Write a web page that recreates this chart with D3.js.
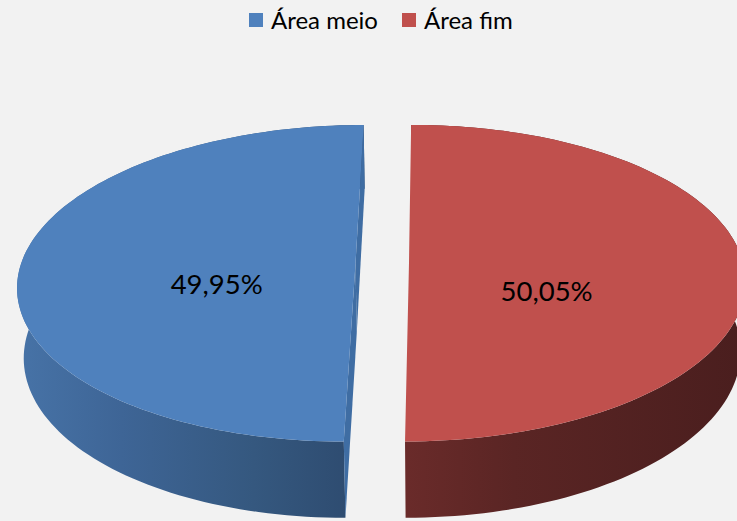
<!DOCTYPE html>
<html>
<head>
<meta charset="utf-8">
<script src="https://cdn.jsdelivr.net/npm/d3@7"></script>
<style>
  body { margin: 0; background: #f2f2f2; }
  svg { display: block; }
</style>
</head>
<body>
<div id="chart"></div>
<script>
// data
const categories = ["Área meio", "Área fim"]
const values = [49.95, 50.05]
const labels = ["49,95%", "50,05%"]

const width = 737
const height = 521

const topColors = ["#4f81bd", "#c0504d"]
const wallColors = ["#3f6da3", "#8e3a38"]
// side shading, darker towards the right
const sideStops = [
  [[0, "#4773a7"], [0.3, "#3e6596"], [0.68, "#35587f"], [1, "#2d4a6e"]],
  [[0, "#6a2b2a"], [0.32, "#5a2524"], [1, "#4a1e1e"]]
]

// 3d view: camera above and a little to the right of the pie
const view = {
  f: 2340, D: 7.0, tilt: 27.77 * Math.PI / 180,
  camX: 0.162, cx: 436.4, cy: 263.2,
  thick: 0.239, explode: 0.08
}
const cs = Math.cos(view.tilt)
const sn = Math.sin(view.tilt)
const cam = [view.camX, view.D * sn, -view.D * cs]

function proj(X, Y, Z) {
  const depth = view.D + Z * cs - Y * sn
  const v = Y * cs + Z * sn
  return [view.cx + view.f * (X - view.camX) / depth, view.cy - view.f * v / depth]
}

const svg = d3.select("#chart")
  .append("svg")
  .attr("width", width)
  .attr("height", height)
  .style("background", "#f2f2f2")

const defs = svg.append("defs")

const pie = d3.pie().sort(null).startAngle(Math.PI).endAngle(3 * Math.PI)
const arcs = pie(values)

const line = d3.line()

const slices = arcs.map((a, i) => {
  const mid = (a.startAngle + a.endAngle) / 2
  const ox = view.explode * Math.sin(mid)
  const oz = view.explode * Math.cos(mid)
  const n = 120
  const angles = d3.range(n + 1).map(k => a.startAngle + (a.endAngle - a.startAngle) * k / n)
  const rimTop = angles.map(t => proj(ox + Math.sin(t), 0, oz + Math.cos(t)))
  const rimBot = angles.map(t => proj(ox + Math.sin(t), -view.thick, oz + Math.cos(t)))
  const cTop = proj(ox, 0, oz)
  const cBot = proj(ox, -view.thick, oz)
  return { a, i, mid, ox, oz, rimTop, rimBot, cTop, cBot }
})

slices.forEach(s => {
  const g = svg.append("g")

  // outer side
  const xs = s.rimBot.map(p => p[0]).concat(s.rimTop.map(p => p[0]))
  const gid = "side" + s.i
  defs.append("linearGradient")
    .attr("id", gid)
    .attr("gradientUnits", "userSpaceOnUse")
    .attr("x1", d3.min(xs)).attr("x2", d3.max(xs))
    .attr("y1", 0).attr("y2", 0)
    .selectAll("stop")
    .data(sideStops[s.i])
    .join("stop")
    .attr("offset", d => d[0])
    .attr("stop-color", d => d[1])

  g.append("path")
    .attr("d", line(s.rimTop.concat(s.rimBot.slice().reverse())) + "Z")
    .attr("fill", `url(#${gid})`)

  // cut walls, only when facing the camera
  const edges = [
    { nrm: [-Math.cos(s.a.startAngle), Math.sin(s.a.startAngle)], k: 0 },
    { nrm: [Math.cos(s.a.endAngle), -Math.sin(s.a.endAngle)], k: s.rimTop.length - 1 }
  ]
  edges.forEach(e => {
    const dot = e.nrm[0] * (cam[0] - s.ox) + e.nrm[1] * (cam[2] - s.oz)
    if (dot <= 0) return
    g.append("path")
      .attr("d", line([s.cTop, s.rimTop[e.k], s.rimBot[e.k], s.cBot]) + "Z")
      .attr("fill", wallColors[s.i])
  })

  // top face
  g.append("path")
    .attr("d", line([s.cTop].concat(s.rimTop)) + "Z")
    .attr("fill", topColors[s.i])
})

// value labels
slices.forEach(s => {
  const r = 0.405
  const t = s.mid + 3.5 * Math.PI / 180
  const p = proj(s.ox + r * Math.sin(t), 0, s.oz + r * Math.cos(t) - 0.155)
  svg.append("text")
    .attr("x", p[0])
    .attr("y", p[1])
    .attr("dy", "0.35em")
    .attr("text-anchor", "middle")
    .attr("font-family", "Lato, 'Open Sans', sans-serif")
    .attr("font-size", "27.5px")
    .attr("fill", "#000")
    .text(labels[s.i])
})

// legend
const legend = svg.append("g").attr("transform", "translate(249 13)")
const legendX = [0, 153]
categories.forEach((c, i) => {
  const item = legend.append("g").attr("transform", `translate(${legendX[i]} 0)`)
  item.append("rect")
    .attr("width", 14).attr("height", 14)
    .attr("fill", topColors[i])
  item.append("text")
    .attr("x", 22)
    .attr("y", 7)
    .attr("dy", "0.36em")
    .attr("font-family", "Lato, 'Open Sans', sans-serif")
    .attr("font-size", "24px")
    .attr("fill", "#000")
    .text(c)
})
</script>
</body>
</html>
